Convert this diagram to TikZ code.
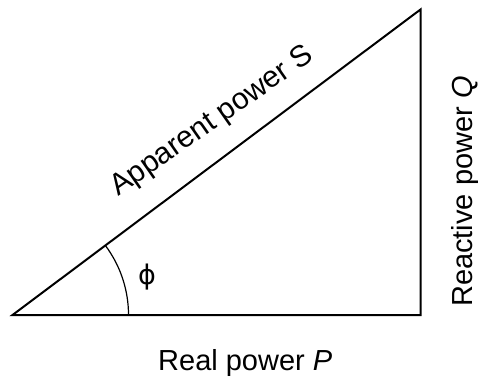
\documentclass[tikz,border=0pt]{standalone}
\usepackage{fontspec}
\setmainfont{Liberation Sans}
\newfontfamily\phifont{DejaVu Sans}
\begin{document}
\begin{tikzpicture}[x=1pt,y=1pt,
  side/.style={line width=2pt, line join=miter},
  lbl/.style={font=\fontsize{29}{34}\selectfont, inner sep=0pt}]
\useasboundingbox (0,0) rectangle (478,378);
\coordinate (A) at (12.5,63);
\coordinate (B) at (420.5,63);
\coordinate (C) at (420.5,368.5);
\draw[side] (A) -- (B) -- (C) -- cycle;
\draw[line width=1.2pt] ([shift={(0:116)}]A) arc[start angle=0, end angle=36.8, radius=116];
\node[lbl, anchor=center] (phi) at (147,101) {\phifont\fontsize{27}{31}\selectfont\symbol{"03D5}};
\node[lbl, font=\fontsize{30}{35}\selectfont, anchor=base west, rotate=35] (S) at (118,181) {Apparent power S};
\node[lbl, anchor=base west, rotate=90] (Q) at (472,71) {Reactive power \textit{Q}};
\node[lbl, anchor=base west] (P) at (158,8) {Real power \textit{P}};
\end{tikzpicture}
\end{document}
